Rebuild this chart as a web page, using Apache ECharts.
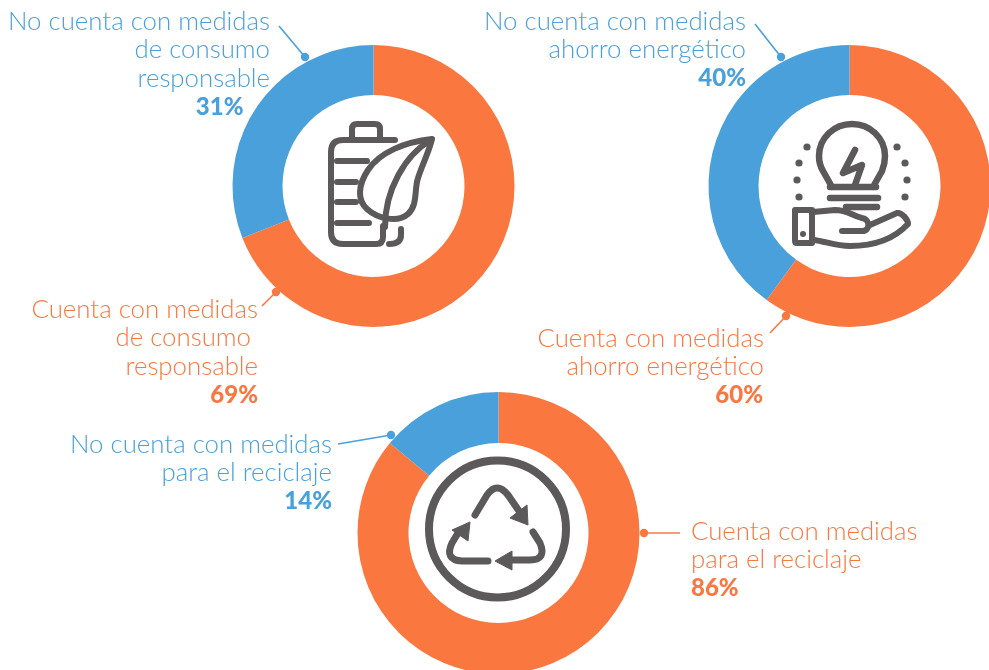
<!DOCTYPE html>
<html><head><meta charset="utf-8">
<style>html,body{margin:0;padding:0;background:#fff;overflow:hidden}#c{width:989px;height:670px}</style>
<script src="https://cdn.jsdelivr.net/npm/echarts@6/dist/echarts.min.js"></script>
</head><body><div id="c"></div>
<script>
const statusKeys = ['cuenta', 'noCuenta'];
const consumoValues = [69, 31];
const ahorroValues = [60, 40];
const reciclajeValues = [86, 14];
const consumoLabels = ['Cuenta con medidas\nde consumo \nresponsable', 'No cuenta con medidas\nde consumo\nresponsable'];
const ahorroLabels = ['Cuenta con medidas\nahorro energético', 'No cuenta con medidas\nahorro energético'];
const reciclajeLabels = ['Cuenta con medidas\npara el reciclaje', 'No cuenta con medidas\npara el reciclaje'];
const ORANGE = '#fa7740', BLUE = '#4aa0db', GREY = '#5b5959';
const colors = [ORANGE, BLUE];
const FONT = 'Lato';

function richFor(color, pctPad, align) {
  return {
    t: {color, fontFamily: FONT, fontWeight: 300, fontSize: 25.8, lineHeight: 28.7, align},
    p: {color, fontFamily: FONT, fontWeight: 900, fontSize: 24, lineHeight: 28.7, align, padding: pctPad}
  };
}
function donut(center, rIn, values, labels, layouts) {
  return {
    type: 'pie', center, radius: [rIn, 141], startAngle: 90, clockwise: true, silent: true,
    animation: false, avoidLabelOverlap: false,
    labelLine: {show: false},
    data: values.map((v, i) => {
      const l = layouts[i];
      const txt = labels[i].split('\n').map(s => '{t|' + s + '}').join('\n') + '\n{p|' + v + '%}';
      return {
        value: v, name: statusKeys[i],
        itemStyle: {color: colors[i]},
        label: {show: true, position: 'outside', formatter: txt, align: l.align,
                rich: richFor(colors[i], l.pad, l.align)}
      };
    }),
    labelLayout: p => {
      const l = layouts[p.dataIndex];
      return {x: l.x, y: l.y, align: l.align, verticalAlign: 'top', hideOverlap: false, moveOverlap: false};
    }
  };
}
const series = [
  donut([373.5, 186], 91, consumoValues, consumoLabels, [
    {x: 258, y: 295, align: 'right', pad: [0, 0, 0, 0]},
    {x: 270, y: 7, align: 'right', pad: [0, 26.5, 0, 0]}
  ]),
  donut([849.5, 186], 91, ahorroValues, ahorroLabels, [
    {x: 764, y: 324, align: 'right', pad: [0, 1, 0, 0]},
    {x: 746, y: 7, align: 'right', pad: [0, 0, 0, 0]}
  ]),
  donut([498.5, 533], 90, reciclajeValues, reciclajeLabels, [
    {x: 691, y: 517, align: 'left', pad: [0, 0, 0, 0]},
    {x: 332, y: 430, align: 'right', pad: [0, 0, 0, 0]}
  ])
];

const leaders = [
  [BLUE, 279, 26, 305, 57], [ORANGE, 262, 306, 276, 292],
  [BLUE, 755, 24, 781, 57], [ORANGE, 770, 333, 786, 316],
  [BLUE, 338, 444, 391, 435], [ORANGE, 680, 533, 644, 533]
];
const g = [];
leaders.forEach(([c, x1, y1, x2, y2]) => {
  g.push({type: 'line', silent: true, shape: {x1, y1, x2, y2}, style: {stroke: c, lineWidth: 1.6}});
  g.push({type: 'circle', silent: true, shape: {cx: x2, cy: y2, r: 4.2}, style: {fill: c}});
});
let shapeId = 0;
function reg(d) {
  const name = 'iconShape' + (shapeId++);
  echarts.graphic.registerShape(name, echarts.graphic.extendPath(d, {}));
  return name;
}
function stroke(d, w) {
  g.push({type: reg(d), silent: true,
    style: {fill: null, stroke: GREY, lineWidth: w, lineCap: 'round', lineJoin: 'round'}});
}
function solid(d) {
  g.push({type: reg(d), silent: true,
    style: {fill: GREY, stroke: GREY, lineWidth: 1, lineJoin: 'round'}});
}
function dot(cx, cy, r) { g.push({type: 'circle', silent: true, shape: {cx, cy, r}, style: {fill: GREY}}); }

// battery + leaf icon
stroke('M395 140 L343 140 Q331 140 331 152 L331 232 Q331 244 343 244 L376 244 Q383 244 383 237 L383 226', 6);
stroke('M352 137 L352 129 Q352 124 357 124 L375 124 Q380 124 380 129 L380 137', 6);
stroke('M337 161 L367 161 M337 182 L356 182 M337 202 L356 202 M337 223 L369 223', 6);
stroke('M389 244 Q401 244 401 235 L401 229', 6);
stroke('M432 139 C405 142 380 152 368 170 C358 185 357 200 367 209 C378 219 398 223 408 214 C418 205 414 190 418 178 C422 165 429 152 432 139 Z', 6);
stroke('M431 140 C405 155 385 190 385 227', 6);
// bulb + hand icon
stroke('M832 187 L823 171 C820 166 819 161 819 156 C819 138 834 124 852 124 C870 124 885 138 885 156 C885 161 884 166 882 171 L873 187 M830 187 L876 187 M830 198 L878 198 M846 207 L877 207', 6.5);
stroke('M855 150 L843 173 L862 165 L855 185', 6.5);
[[807,147],[799,163],[797,180],[799,197],[897,147],[905,163],[907,180],[905,197]].forEach(p => dot(p[0], p[1], 3.6));
dot(803, 234, 3);
stroke('M795 210 L812 210 L812 243 L797 243 Q795 243 795 241 Z', 6);
stroke('M813 212 L835 210 C848 210 852 216 862 218 C870 219 871 231 862 231 L842 231 M870 225 L897 213 C902 212 908 220 908 224 C895 238 875 246 850 246 C835 246 825 241 813 240', 6);
// recycle icon
g.push({type: 'circle', silent: true, shape: {cx: 497.5, cy: 529, r: 68.5}, style: {fill: null, stroke: GREY, lineWidth: 8}});
stroke('M475 515 L487 495 Q497 481 508 495 L519 511', 7);
solid('M528 525 L510 518 L527 505 Z');
stroke('M533 532 L540 543 Q547 560 530 560 L511 560', 7);
solid('M495 561 L512 551 L512 570 Z');
stroke('M488 561 L462 561 Q444 560 452 543 L458 533', 7);
solid('M470 522 L452 530 L468 541 Z');

const chart = echarts.init(document.getElementById('c'), null, {renderer: 'canvas'});
chart.setOption({animation: false, series, graphic: {elements: g}});
</script>
</body></html>
